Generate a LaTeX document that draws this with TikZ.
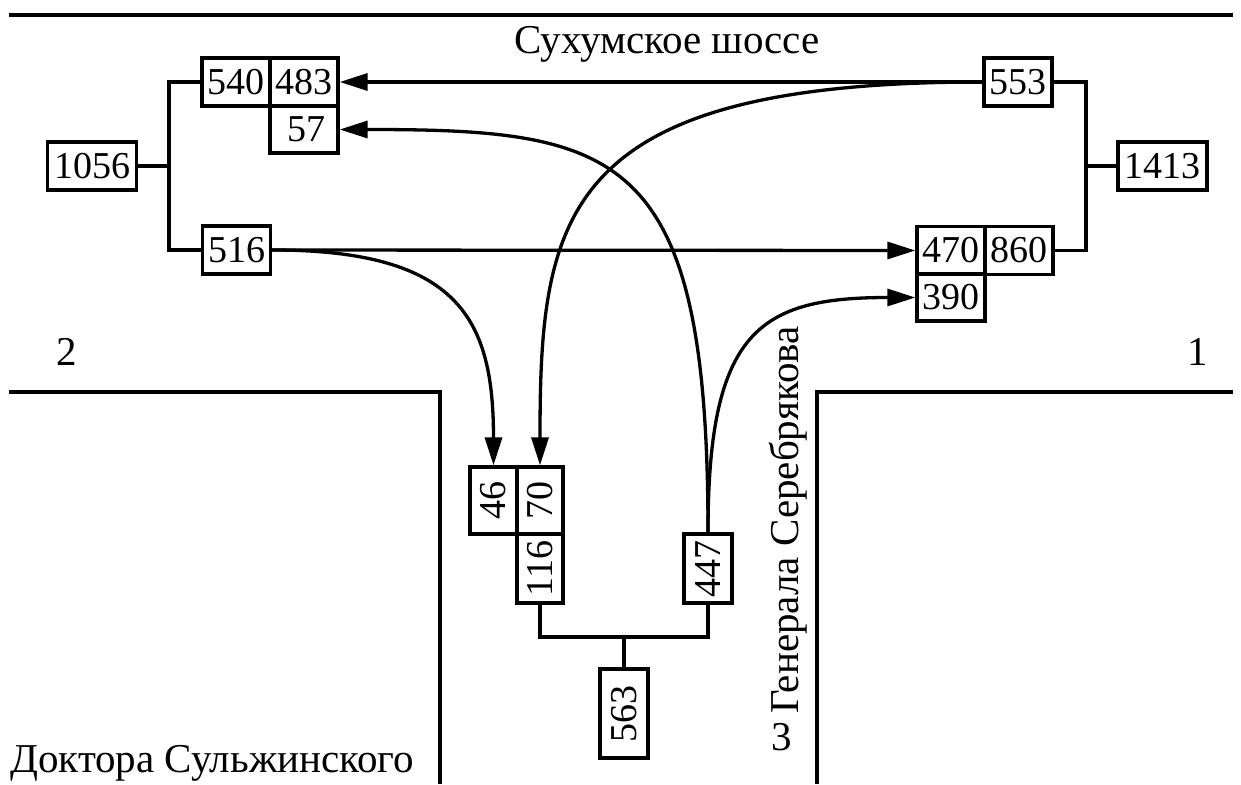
\documentclass[tikz,border=0pt]{standalone}
\usepackage{fontspec}
\usepackage{graphicx}
\setmainfont{Liberation Serif}
\newfontfamily\timesfont{Liberation Serif}
\usetikzlibrary{arrows.meta}
\tikzset{
  box/.style={draw, line width=3.3pt, inner sep=0pt, minimum width=68pt, minimum height=48pt, font=\timesfont\fontsize{38}{40}\selectfont},
  wbox/.style={box, minimum width=89pt},
  vbox/.style={box, minimum width=47pt, minimum height=68pt},
  wire/.style={line width=3.3pt},
  road/.style={line width=3.3pt},
  flow/.style={line width=3.3pt, -{Triangle[length=28pt,width=17pt]}},
  lbl/.style={inner sep=0pt, font=\timesfont\fontsize{41}{43}\selectfont}
}
\begin{document}
\begin{tikzpicture}[x=1pt,y=-1pt]
\useasboundingbox (0,0) rectangle (1241,784);
% roads
\draw[road] (9,15) -- (1233,15);
\draw[road] (9,392) -- (440,392) -- (440,784);
\draw[road] (1233,392) -- (817,392) -- (817,784);
% labels
\node[lbl, anchor=base] (tSukh) at (667,53) {Сухумское шоссе};
\node[lbl, anchor=base] (t2) at (67,365) {2};
\node[lbl, anchor=base] (t1) at (1198,365) {1};
\node[lbl, anchor=base west] (tDok) at (10,772) {Доктора Сульжинского};
\node[lbl, rotate=90] (tGen) at (788,520) {Генерала Серебрякова};
\node[lbl, anchor=base] (t3) at (782,750) {3};
% left group
\node[box] (b540) at (236,82) {540};
\node[box] (b483) at (304,82) {483};
\node[box, minimum height=47pt] (b57) at (304,129.5) {\hspace*{4pt}57};
\node[wbox] (b1056) at (92,166) {1056};
\node[box] (b516) at (236.5,250) {516};
% right group
\node[box] (b553) at (1018,82) {553};
\node[wbox] (b1413) at (1162.5,166) {1413};
\node[box] (b470) at (951,250.5) {470};
\node[box] (b860) at (1019,250.5) {860};
\node[box, minimum height=47pt] (b390) at (951,297.5) {390};
% bottom group
\node[vbox, minimum height=67pt] (b46) at (493.5,500.5) {\rotatebox{90}{46}};
\node[vbox, minimum width=46pt, minimum height=67pt] (b70) at (540,500.5) {\rotatebox{90}{70}};
\node[vbox, minimum width=46pt, minimum height=69pt] (b116) at (540,568.5) {\rotatebox{90}{116}};
\node[vbox, minimum width=48pt, minimum height=69pt] (b447) at (708,568.5) {\rotatebox{90}{447}};
\node[vbox, minimum width=48pt, minimum height=89pt] (b563) at (624,713.5) {\rotatebox{90}{563}};
% brackets
\coordinate (jl) at (169,166);
\coordinate (jr) at (1086,166);
\coordinate (jb) at (624,637);
\draw[wire] (b1056.east) -- (jl);
\draw[wire] (b540.west) -| (jl) |- (b516.west);
\draw[wire] (b1413.west) -- (jr);
\draw[wire] (b553.east) -| (jr) |- (b860.east);
\draw[wire] (b116.south) |- (jb) -| (b447.south);
\draw[wire] (jb) -- (b563.north);
% flows
\draw[flow] (b553.west) -- (b483.east);
\draw[flow] (b516.east) -- (b470.west);
\draw[flow] (b553.west) .. controls (560,82) and (540,215) .. (b70.north);
\draw[flow] (b447.north) .. controls (708,150) and (620,129.5) .. (b57.east);
\draw[flow] (b447.north) .. controls (708,330) and (760,297.5) .. (b390.west);
\draw[flow] (b516.east) .. controls (460,250) and (493.5,320) .. (b46.north);
\end{tikzpicture}
\end{document}
